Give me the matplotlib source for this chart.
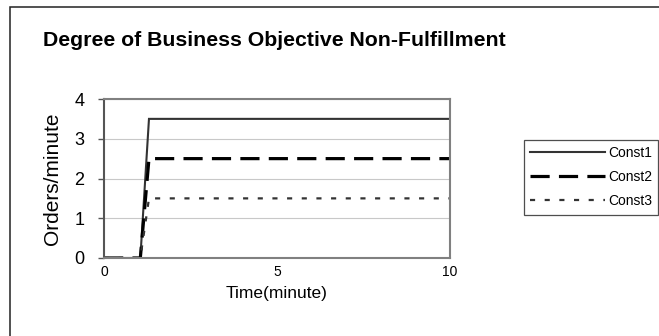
import matplotlib
matplotlib.use("Agg")
import matplotlib.pyplot as plt
from matplotlib.patches import Rectangle

plt.rcParams['font.family'] = ['Liberation Sans', 'DejaVu Sans']

# simulation output: all three constraints step up just after t = 1 minute
time_min = [0, 1.05, 1.3, 10]
const1 = [0, 0, 3.5, 3.5]
const2 = [0, 0, 2.5, 2.5]
const3 = [0, 0, 1.5, 1.5]
series_names = ['Const1', 'Const2', 'Const3']
x_ticks = [0, 5, 10]
y_ticks = [0, 1, 2, 3, 4]

W, H = 659, 336
fig = plt.figure(figsize=(W / 100, H / 100), dpi=100)
fig.patch.set_facecolor('white')

# outer chart border (runs off the right and bottom edges)
fig.add_artist(Rectangle((10 / W, -0.1), 1.0, 1.1 - 7 / H,
                         transform=fig.transFigure, fill=False,
                         edgecolor='#222222', linewidth=1.1, clip_on=False))

ax = fig.add_axes([104 / W, 1 - 258 / H, 346 / W, 159 / H])

l1, = ax.plot(time_min, const1, color='#333333', linewidth=1.5,
              solid_joinstyle='miter', label=series_names[0])
l2, = ax.plot(time_min, const2, color='black', linewidth=2.3,
              dashes=(6.0, 2.9), label=series_names[1])
l3, = ax.plot(time_min, const3, color='#333333', linewidth=1.6,
              dashes=(2.3, 4.3), label=series_names[2])

ax.set_xlim(0, 10)
ax.set_ylim(0, 4)
ax.set_xticks(x_ticks)
ax.set_yticks(y_ticks)
ax.grid(axis='y', color='#c8c8c8', linewidth=0.8)
ax.set_axisbelow(True)

for side in ax.spines.values():
    side.set_color('#808080')
    side.set_linewidth(1.5)
ax.spines['left'].set_color('#555555')

ax.tick_params(axis='y', length=4, width=1, color='#555555',
               labelsize=13, pad=10)
ax.tick_params(axis='x', length=0, labelsize=10, pad=5)

ax.set_xlabel('Time(minute)', fontsize=12.5)
ax.xaxis.set_label_coords(0.5, -0.225)
ax.xaxis.label.set_va('center')
ax.set_ylabel('Orders/minute', fontsize=15)
ax.yaxis.set_label_coords(-0.150, 0.5)
ax.yaxis.label.set_va('center')

fig.text(43 / W, 1 - 41 / H, 'Degree of Business Objective Non-Fulfillment',
         fontsize=15.3, fontweight='bold', ha='left', va='center')

leg = fig.legend(handles=[l1, l2, l3], loc='upper left',
                 bbox_to_anchor=(524 / W, 1 - 140 / H),
                 bbox_transform=fig.transFigure, borderaxespad=0,
                 fontsize=10, frameon=True, fancybox=False,
                 handlelength=5.4, handletextpad=0.2, labelspacing=0.72,
                 borderpad=0.45)
leg.get_frame().set_edgecolor('#222222')
leg.get_frame().set_linewidth(0.9)

fig.savefig('out.png', dpi=100)
